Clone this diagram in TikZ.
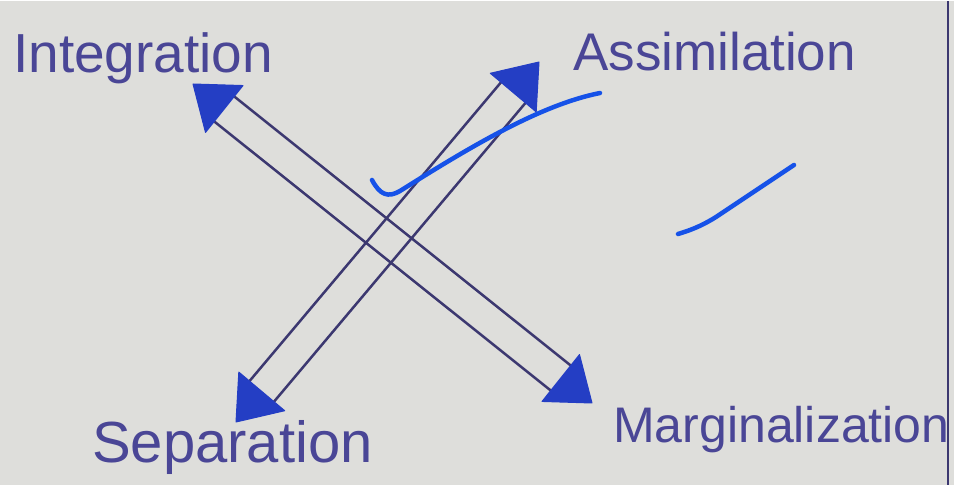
\documentclass[tikz,border=0pt]{standalone}
\usepackage{fontspec}
\setmainfont{Liberation Sans}
\usetikzlibrary{calc}
\definecolor{paper}{RGB}{222,222,219}
\definecolor{ink}{RGB}{60,56,112}
\definecolor{pen}{RGB}{74,70,150}
\definecolor{marker}{RGB}{36,62,196}
\definecolor{tick}{RGB}{22,82,232}

\begin{document}
\begin{tikzpicture}[x=1pt,y=-1pt,
  shaft/.style={draw=ink, line width=2.5pt},
  head/.style={fill=marker, draw=marker, line width=1pt, line join=round},
  label/.style={text=pen, anchor=base west, inner sep=0pt},
  checkmark/.style={draw=tick, line width=4.5pt, line cap=round, line join=round}]
  \fill[paper] (0,0) rectangle (954,484);
  \draw[ink, line width=2pt] (948,0) -- (948,484);
  % labels
  \node[label, font=\fontsize{55}{60}\selectfont] (integ) at (13,72) {Integration};
  \node[label, font=\fontsize{53}{58}\selectfont] (assim) at (573,70) {Assimilation};
  \node[label, font=\fontsize{58}{62}\selectfont] (separ) at (92,462) {Separation};
  \node[label, font=\fontsize{50}{55}\selectfont] (margi) at (613,442) {Marginalization};
  % arrow tips
  \coordinate (intTip) at (193,83);
  \coordinate (marTip) at (592,402);
  \coordinate (sepTip) at (236,421);
  \coordinate (assTip) at (539,61);
  % double shafts
  \foreach \a/\b in {intTip/marTip, sepTip/assTip} {
    \draw[shaft] ($(\a)!34pt!(\b)!16pt!90:(\b)$) -- ($(\b)!34pt!(\a)!16pt!-90:(\a)$);
    \draw[shaft] ($(\a)!34pt!(\b)!16pt!-90:(\b)$) -- ($(\b)!34pt!(\a)!16pt!90:(\a)$);
  }
  % heads
  \foreach \a/\b in {intTip/marTip, marTip/intTip, sepTip/assTip, assTip/sepTip}
    \filldraw[head] (\a) -- ($(\a)!40pt!(\b)!30pt!90:(\b)$) -- ($(\a)!40pt!(\b)!30pt!-90:(\b)$) -- cycle;
  % ticks
  \draw[checkmark] (372,179) .. controls (380,194) and (388,197) .. (400,190)
    .. controls (470,146) and (540,104) .. (600,92);
  \draw[checkmark] (678,233) .. controls (688,230) and (700,226) .. (716,216) -- (794,164);
\end{tikzpicture}
\end{document}
